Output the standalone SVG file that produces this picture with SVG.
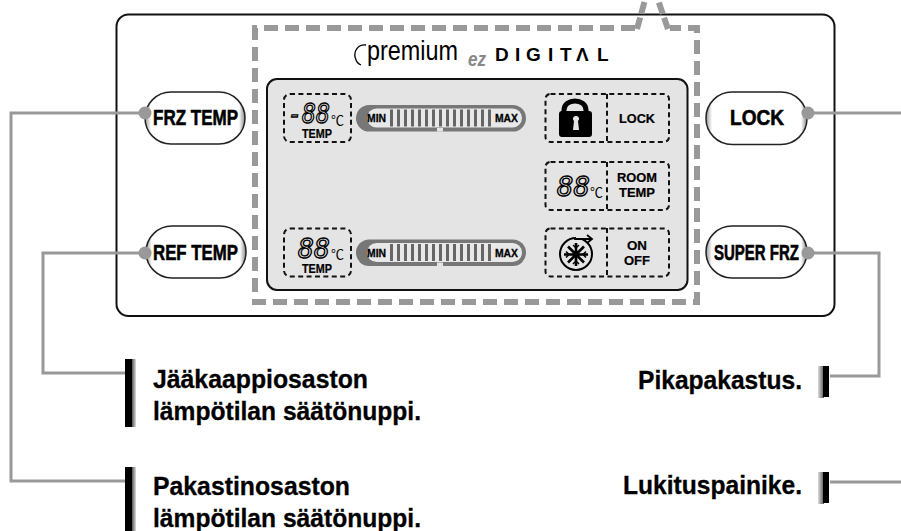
<svg xmlns="http://www.w3.org/2000/svg" width="901" height="531" viewBox="0 0 901 531">
<style>
text{font-family:"Liberation Sans",Arial,sans-serif;fill:#000}
.cap{font-size:25px;font-weight:700;stroke:#000;stroke-width:.3px}
.btn{font-size:22px;font-weight:700;stroke:#000;stroke-width:.6px}
.sm{font-size:12px;font-weight:700;text-anchor:middle;stroke:#000;stroke-width:.2px}
.tiny{font-size:11px;font-weight:700;stroke:#000;stroke-width:.3px}
.seg{font-family:"DejaVu Sans Mono","Liberation Mono",monospace;font-style:italic;font-size:26px;fill:none;stroke:#000;stroke-width:1.300px}
.deg{font-family:"Noto Sans CJK SC","Noto Sans",sans-serif;font-size:13px}
.conn{fill:none;stroke:#999;stroke-width:3}
.dot{fill:#999}
.box{fill:none;stroke:#111;stroke-width:2;stroke-dasharray:5 3.4}
.b{fill:url(#edge);stroke:#222;stroke-width:1.500}
.bar{fill:#000}
</style>
<defs>
<linearGradient id="edge" x1="0" x2="1" y1="0" y2="0">
<stop offset="0" stop-color="#999"/><stop offset=".06" stop-color="#fff"/><stop offset=".94" stop-color="#fff"/><stop offset="1" stop-color="#888"/>
</linearGradient>
<linearGradient id="shadeR"><stop offset="0" stop-color="#555"/><stop offset="1" stop-color="#ddd"/></linearGradient>
<linearGradient id="shadeL"><stop offset="0" stop-color="#ddd"/><stop offset="1" stop-color="#555"/></linearGradient>
<g id="gauge">
<rect x="356" y="0" width="170" height="26.500" rx="13.200" fill="#777"/>
<rect x="367" y="3.500" width="155" height="19" rx="9.500" fill="#e8e8e8"/>
<rect x="437" y="23" width="6" height="3.500" fill="#e4e4e4"/>
<line x1="390" x2="493" y1="13" y2="13" stroke="#666" stroke-width="17" stroke-dasharray="3 4"/>
<text class="tiny" x="367" y="17" textLength="19" lengthAdjust="spacingAndGlyphs">MIN</text>
<text class="tiny" x="495" y="17" textLength="23" lengthAdjust="spacingAndGlyphs">MAX</text>
</g>
</defs>
<rect width="901" height="531" fill="#fff"/>
<g id="panel"><rect x="116.500" y="14.500" width="718" height="301.500" rx="12" fill="#fff" stroke="#111" stroke-width="2"/></g>
<g id="display-frame">
<path d="M635 28H255V302H697V28H670" fill="none" stroke="#999" stroke-width="6" stroke-dasharray="14 7"/>
<path d="M637 29L645 0M668 29L658 0" fill="none" stroke="#999" stroke-width="6" stroke-dasharray="12 4"/>
</g>
<g id="brand">
<path d="M366 45C358 44 354 51 355 57C356 61 358 64 361 65" fill="none" stroke="#000" stroke-width="1.300"/>
<text x="367" y="60" font-size="27" textLength="91" lengthAdjust="spacingAndGlyphs">premium</text>
<text x="468" y="66" font-size="21" font-style="italic" font-weight="700" style="fill:#888" textLength="18" lengthAdjust="spacingAndGlyphs">ez</text>
<text x="495 515 526 548 560 576 597" y="61" font-size="19" font-weight="700">DIGITΛL</text>
</g>
<g id="lcd"><rect x="267" y="79" width="420.500" height="211" rx="10" fill="#e4e4e4" stroke="#111" stroke-width="2"/></g>
<g id="freezer-readout">
<rect class="box" x="284" y="94" width="67" height="48" rx="6"/>
<text class="seg" x="288" y="123" textLength="42" lengthAdjust="spacingAndGlyphs">-88</text>
<text class="deg" x="331" y="125">℃</text>
<text class="sm" x="317" y="138" textLength="30" lengthAdjust="spacingAndGlyphs">TEMP</text>
</g>
<g id="fridge-readout">
<rect class="box" x="284" y="228.500" width="67" height="48" rx="6"/>
<text class="seg" x="298" y="258" textLength="32" lengthAdjust="spacingAndGlyphs">88</text>
<text class="deg" x="331" y="259">℃</text>
<text class="sm" x="317" y="273" textLength="30" lengthAdjust="spacingAndGlyphs">TEMP</text>
</g>
<g id="freezer-gauge"><use href="#gauge" y="105"/></g>
<g id="fridge-gauge"><use href="#gauge" y="239.500"/></g>
<g id="lock-indicator">
<rect class="box" x="545.500" y="94" width="123.500" height="48" rx="5"/>
<line class="box" x1="607" x2="607" y1="94" y2="142"/>
<path d="M564 114V110C564 98 586 98 586 110V114" fill="none" stroke="#000" stroke-width="5"/>
<rect x="559" y="111" width="33" height="26" rx="3"/>
<path d="M576 116a2.800 2.800 0 0 1 2 5l1 9h-6l1-9a2.800 2.800 0 0 1 2-5z" fill="#e4e4e4"/>
<text class="sm" x="637" y="123" textLength="36" lengthAdjust="spacingAndGlyphs">LOCK</text>
</g>
<g id="room-indicator">
<rect class="box" x="545.500" y="162" width="123.500" height="48" rx="5"/>
<line class="box" x1="607" x2="607" y1="162" y2="210"/>
<text class="seg" x="557" y="196" textLength="33" lengthAdjust="spacingAndGlyphs">88</text>
<text class="deg" x="590" y="197">℃</text>
<text class="sm" x="637" y="182" textLength="40" lengthAdjust="spacingAndGlyphs">ROOM</text>
<text class="sm" x="637" y="197" textLength="36" lengthAdjust="spacingAndGlyphs">TEMP</text>
</g>
<g id="super-indicator">
<rect class="box" x="545.500" y="228.500" width="123.500" height="48" rx="5"/>
<line class="box" x1="607" x2="607" y1="228" y2="277"/>
<circle cx="576" cy="254" r="16" fill="none" stroke="#000" stroke-width="2"/>
<path d="M576 238H592" fill="none" stroke="#e4e4e4" stroke-width="4"/>
<path d="M574 239H592M587 235L592 239L587 243" fill="none" stroke="#000" stroke-width="1.800"/>
<path d="M576 243V266M564 254.500H588M568 246.500L584 262.500M584 246.500L568 262.500" fill="none" stroke="#000" stroke-width="2.600"/>
<path d="M573 245L576 248L579 245M573 264L576 261L579 264M566 251.500L569 254.500L566 257.500M586 251.500L583 254.500L586 257.500" fill="none" stroke="#000" stroke-width="1.500"/>
<text class="sm" x="637" y="250" textLength="20" lengthAdjust="spacingAndGlyphs">ON</text>
<text class="sm" x="637" y="265" textLength="26" lengthAdjust="spacingAndGlyphs">OFF</text>
</g>
<g id="connectors">
<path class="conn" d="M145 113H11V481H125"/>
<path class="conn" d="M145 253H43V373H125"/>
<path class="conn" d="M808 113H901"/>
<path class="conn" d="M808 253H879V376H830"/>
<path class="conn" d="M830 482H901"/>
</g>
<g id="btn-frz">
<rect class="b" x="145" y="92" width="100" height="52" rx="26"/>
<circle class="dot" cx="145" cy="113" r="6.500"/>
<text class="btn" x="153" y="125" textLength="85" lengthAdjust="spacingAndGlyphs">FRZ TEMP</text>
</g>
<g id="btn-ref">
<rect class="b" x="146" y="226" width="100" height="52" rx="26"/>
<circle class="dot" cx="145" cy="253" r="6.500"/>
<text class="btn" x="153" y="260" textLength="85" lengthAdjust="spacingAndGlyphs">REF TEMP</text>
</g>
<g id="btn-lock">
<rect class="b" x="706" y="92" width="101" height="52.500" rx="26"/>
<circle class="dot" cx="808" cy="113" r="6.500"/>
<text class="btn" x="730" y="125" textLength="54" lengthAdjust="spacingAndGlyphs">LOCK</text>
</g>
<g id="btn-super">
<rect class="b" x="706" y="226" width="101" height="52" rx="26"/>
<circle class="dot" cx="808" cy="253" r="6.500"/>
<text class="btn" x="714" y="260" textLength="85" lengthAdjust="spacingAndGlyphs">SUPER FRZ</text>
</g>
<g id="note-fridge">
<rect x="132" y="359" width="4" height="68" fill="url(#shadeR)"/><rect class="bar" x="125" y="359" width="7" height="68"/>
<text class="cap" x="153" y="388" textLength="215" lengthAdjust="spacingAndGlyphs">Jääkaappiosaston</text>
<text class="cap" x="153" y="420" textLength="268" lengthAdjust="spacingAndGlyphs">lämpötilan säätönuppi.</text>
</g>
<g id="note-freezer">
<rect x="132" y="467" width="4" height="64" fill="url(#shadeR)"/><rect class="bar" x="125" y="467" width="7" height="64"/>
<text class="cap" x="153" y="495" textLength="197" lengthAdjust="spacingAndGlyphs">Pakastinosaston</text>
<text class="cap" x="153" y="527" textLength="268" lengthAdjust="spacingAndGlyphs">lämpötilan säätönuppi.</text>
</g>
<g id="note-super">
<rect x="818" y="366" width="6" height="32" fill="url(#shadeL)"/><rect class="bar" x="823" y="366" width="6" height="31"/>
<text class="cap" x="638" y="389" textLength="164" lengthAdjust="spacingAndGlyphs">Pikapakastus.</text>
</g>
<g id="note-lock">
<rect x="818" y="472" width="6" height="32" fill="url(#shadeL)"/><rect class="bar" x="823" y="472" width="6" height="31"/>
<text class="cap" x="623" y="494" textLength="179" lengthAdjust="spacingAndGlyphs">Lukituspainike.</text>
</g>
</svg>
